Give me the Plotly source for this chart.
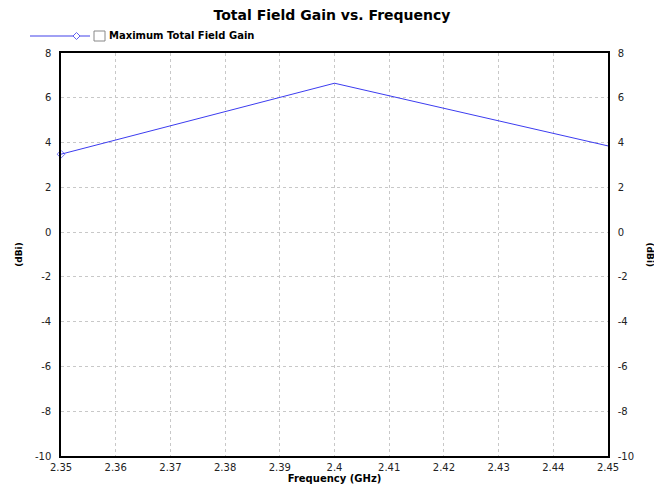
import plotly.graph_objects as go

freq = [2.35, 2.40, 2.45]
gain = [3.48, 6.65, 3.85]
marker_sizes = [6, 0, 0]
x_ticks = [2.35, 2.36, 2.37, 2.38, 2.39, 2.40, 2.41, 2.42, 2.43, 2.44, 2.45]
x_tick_text = ["2.35", "2.36", "2.37", "2.38", "2.39", "2.4", "2.41", "2.42", "2.43", "2.44", "2.45"]
y_ticks = [-10, -8, -6, -4, -2, 0, 2, 4, 6, 8]
y_tick_text = ["-10", "-8", "-6", "-4", "-2", "0", "2", "4", "6", "8"]
series_name = "Maximum Total Field Gain"
title_text = "Total Field Gain vs. Frequency"
x_title = "Frequency (GHz)"
y_title = "(dBi)"

line_color = "#3c3cf0"
font_fam = "DejaVu Sans, Verdana, sans-serif"
tick_font = dict(family="DejaVu Sans, Verdana, sans-serif", size=10, color="#222")

W, H = 654, 486
L, R, T, B = 61, 46, 53, 30
PW, PH = W - L - R, H - T - B


def px(x):
    return (x - L) / PW


def py(y):
    return (H - B - y) / PH


fig = go.Figure()
fig.add_trace(go.Scatter(
    x=freq, y=gain, mode="lines+markers", name=series_name,
    line=dict(color=line_color, width=1),
    marker=dict(symbol="diamond-open", size=marker_sizes, color=line_color, line=dict(width=1)),
    showlegend=False, cliponaxis=False,
))
fig.add_trace(go.Scatter(x=[freq[0]], y=[gain[0]], yaxis="y2", mode="markers",
                         marker=dict(opacity=0), showlegend=False, hoverinfo="skip"))

base = dict(showline=True, linecolor="black", linewidth=1.5, ticks="", zeroline=False,
            tickfont=tick_font, automargin=False)
grid = dict(gridcolor="#c8c8c8", griddash="3px,3px", gridwidth=1)

fig.update_layout(
    width=W, height=H,
    margin=dict(l=L, r=R, t=T, b=B, autoexpand=False),
    paper_bgcolor="white", plot_bgcolor="white",
    showlegend=False,
    title=dict(text=f"<b>{title_text}</b>", x=(215 + 449) / 2 / W, xanchor="center",
               y=1 - 15 / H, yanchor="middle",
               font=dict(family=font_fam, size=14, color="black")),
    xaxis=dict(range=[2.35, 2.45], tickvals=x_ticks, ticktext=x_tick_text, mirror=True,
               ticklabelstandoff=1,
               title=dict(text=f"<b>{x_title}</b>", standoff=0,
                          font=dict(family=font_fam, size=10, color="black")),
               **grid, **base),
    yaxis=dict(range=[-10, 8], tickvals=y_ticks, ticktext=y_tick_text,
               ticklabelstandoff=6,
               title=dict(text=f"<b>{y_title}</b>", standoff=11,
                          font=dict(family=font_fam, size=9, color="black")),
               **grid, **base),
    yaxis2=dict(range=[-10, 8], tickvals=y_ticks, ticktext=y_tick_text, overlaying="y",
                side="right", showgrid=False, ticklabelstandoff=6,
                **base),
)

# right axis title reads top-to-bottom
fig.add_annotation(xref="paper", yref="paper", x=px(650), y=0.5, text=f"<b>{y_title}</b>",
                   textangle=90, showarrow=False, xanchor="center", yanchor="middle",
                   font=dict(family=font_fam, size=9, color="black"))

# hand-drawn legend (line + diamond + checkbox + label)
fig.add_shape(type="line", xref="paper", yref="paper",
              x0=px(30), x1=px(90), y0=py(36), y1=py(36),
              line=dict(color="#8080f0", width=1.5))
fig.add_shape(type="path", xref="paper", yref="paper",
              path=f"M {px(73)} {py(36)} L {px(76.5)} {py(32.5)} L {px(80)} {py(36)} L {px(76.5)} {py(39.5)} Z",
              line=dict(color="#6060f0", width=1), fillcolor="white")
fig.add_shape(type="rect", xref="paper", yref="paper",
              x0=px(94), x1=px(105), y0=py(41), y1=py(31),
              line=dict(color="#888", width=1), fillcolor="white")
fig.add_annotation(xref="paper", yref="paper", x=px(107), y=py(36),
                   text=f"<b>{series_name}</b>", showarrow=False,
                   xanchor="left", yanchor="middle",
                   font=dict(family=font_fam, size=10, color="black"))

fig.write_html("out.html", config={"displayModeBar": False},
               post_script="document.body.style.margin='0';document.body.style.overflow='hidden';")
